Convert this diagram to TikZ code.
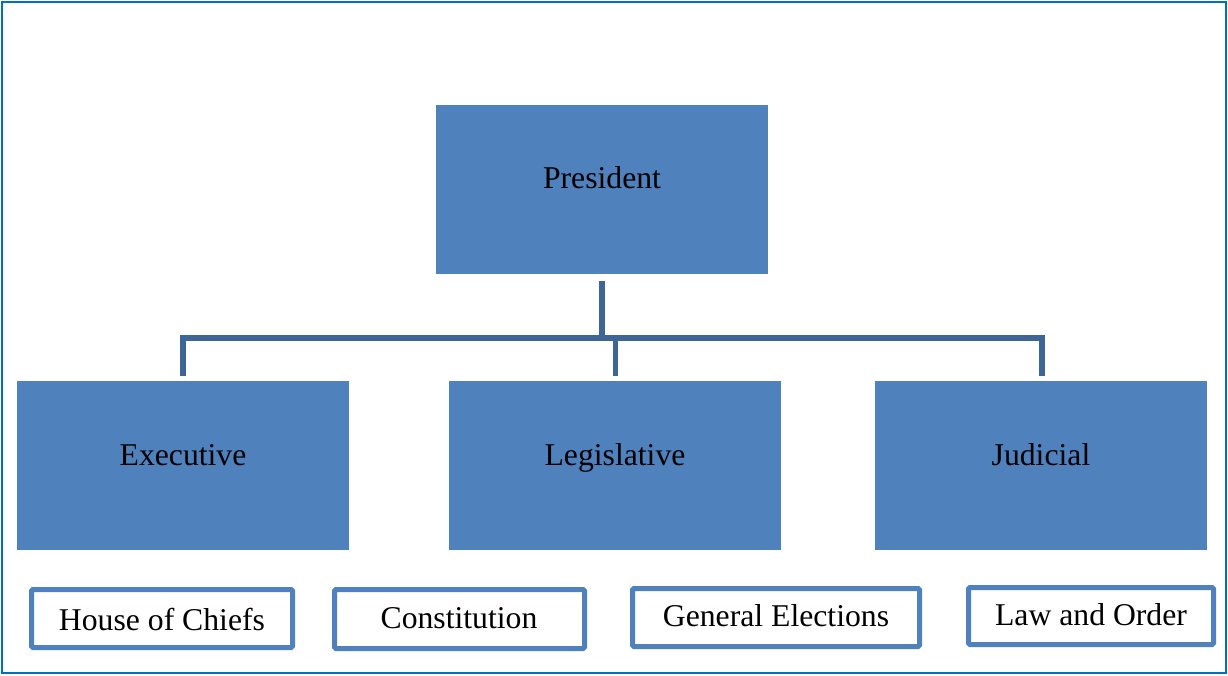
\documentclass[tikz,border=0pt]{standalone}
\usepackage{fontspec}
\setmainfont{Liberation Serif}
\usetikzlibrary{calc}
\definecolor{boxblue}{RGB}{79,129,189}
\definecolor{framecol}{RGB}{0,112,192}
\definecolor{linkblue}{RGB}{61,101,150}
\begin{document}
\begin{tikzpicture}[x=1pt,y=-1pt,
  bigbox/.style={rectangle, fill=boxblue, draw=none, minimum width=332pt,
                 minimum height=169pt, inner sep=0pt},
  smallbox/.style={rectangle, draw=boxblue, fill=white, line width=5pt,
                   rounded corners=1.5pt, inner sep=0pt},
  lbl/.style={font=\fontsize{31.7}{38}\selectfont, text height=21pt,
              text depth=7pt, inner sep=0pt},
  link/.style={draw=linkblue, line width=5.5pt}]
\useasboundingbox (0,0) rectangle (1228,675);
% outer frame
\draw[framecol, line width=2.6pt] (2,2) rectangle (1226,673);

% top and branch boxes
\node[bigbox] (pres) at (602,189.5) {};
\node[bigbox] (exe)  at (183,465.5) {};
\node[bigbox] (leg)  at (615,465.5) {};
\node[bigbox] (jud)  at (1041,465.5) {};

\node[lbl] (presT) at (602,181) {President};
\node[lbl] (exeT)  at (183,458.5) {Executive};
\node[lbl] (legT)  at (615,458.5) {Legislative};
\node[lbl] (judT)  at (1041,458.5) {Judicial};

% connectors
\coordinate (bus) at ($(pres.south)+(0,64)$);
\draw[link] ($(pres.south)+(0,6.5)$) -- (bus);
\draw[link] ($(exe.north)+(0,-5)$) |- (bus) -| ($(jud.north)+(1,-5)$);
\draw[link] ($(leg.north)+(0.5,-5)$) -- ($(bus -| leg.north)+(0.5,0)$);

% lower boxes
\node[smallbox, minimum width=261pt, minimum height=58pt] (hoc) at (162,618.5) {};
\node[smallbox, minimum width=250pt, minimum height=59pt] (con) at (459.5,619) {};
\node[smallbox, minimum width=287pt, minimum height=58pt] (gen) at (776,617.5) {};
\node[smallbox, minimum width=245pt, minimum height=57pt] (law) at (1091,616) {};

\node[lbl] (hocT) at (162,623) {House of Chiefs};
\node[lbl] (conT) at (459,621) {Constitution};
\node[lbl] (genT) at (776,619) {General Elections};
\node[lbl] (lawT) at (1091,618) {Law and Order};
\end{tikzpicture}
\end{document}
